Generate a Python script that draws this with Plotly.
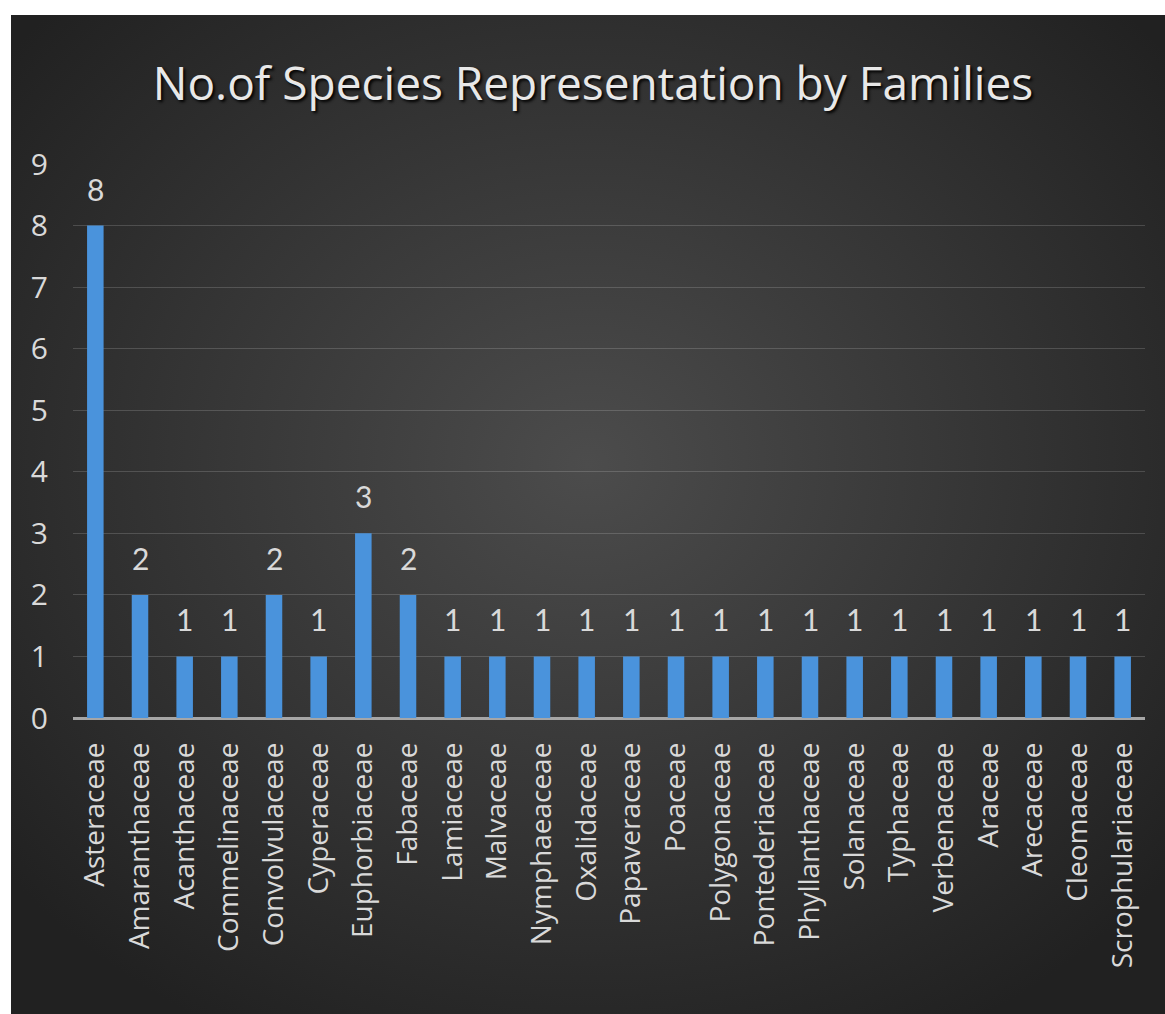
import plotly.graph_objects as go

families = ["Asteraceae", "Amaranthaceae", "Acanthaceae", "Commelinaceae", "Convolvulaceae",
            "Cyperaceae", "Euphorbiaceae", "Fabaceae", "Lamiaceae", "Malvaceae", "Nymphaeaceae",
            "Oxalidaceae", "Papaveraceae", "Poaceae", "Polygonaceae", "Pontederiaceae",
            "Phyllanthaceae", "Solanaceae", "Typhaceae", "Verbenaceae", "Araceae", "Arecaceae",
            "Cleomaceae", "Scrophulariaceae"]
species = [8, 2, 1, 1, 2, 1, 3, 2, 1, 1, 1, 1, 1, 1, 1, 1, 1, 1, 1, 1, 1, 1, 1, 1]
y_ticks = [0, 1, 2, 3, 4, 5, 6, 7, 8, 9]

FONT = "Lato, 'Open Sans', sans-serif"
FONT2 = "'Open Sans', Lato, sans-serif"
TXT = "#d9d9d9"

svg = ("data:image/svg+xml;utf8,"
       "<svg xmlns='http://www.w3.org/2000/svg' width='1154' height='999' preserveAspectRatio='none'>"
       "<defs><radialGradient id='g' cx='50%' cy='45%' r='65%'>"
       "<stop offset='0%' stop-color='%234c4c4c'/>"
       "<stop offset='100%' stop-color='%23212121'/>"
       "</radialGradient></defs>"
       "<rect width='1154' height='999' fill='url(%23g)'/></svg>")

fig = go.Figure()
fig.add_trace(go.Bar(
    x=families, y=species,
    marker=dict(color="#4a93dc", line=dict(width=0)),
    width=0.37,
))

for f, v in zip(families, species):
    fig.add_annotation(x=f, y=v, text=str(v), showarrow=False,
                       yanchor="middle", yshift=37,
                       font=dict(family=FONT, size=30, color=TXT))

W, H = 1165, 1014
L, R, T, B = 73, 20, 164, 296
pw = W - L - R
ph = H - T - B

fig.add_layout_image(dict(
    source=svg, xref="paper", yref="paper",
    x=(11 - L) / pw, y=(H - B - 15) / ph,
    sizex=(W - 11) / pw, sizey=(H - 15) / ph,
    sizing="stretch", xanchor="left", yanchor="top", layer="below",
))

fig.update_layout(
    width=W, height=H,
    margin=dict(l=L, r=R, t=T, b=B),
    paper_bgcolor="white",
    plot_bgcolor="rgba(0,0,0,0)",
    showlegend=False,
    title=dict(
        text="No.of Species Representation by Families",
        x=(593 - L) / pw, xref="paper", xanchor="center",
        y=(H - 84) / H, yanchor="middle",
        font=dict(family=FONT2, size=46, color="#e8e8e8", shadow="2px 2px 3px #000"),
    ),
    xaxis=dict(
        tickangle=-90,
        tickfont=dict(family=FONT2, size=28, color=TXT),
        showgrid=False,
        ticks="", ticklabelstandoff=18,
        showline=False,
    ),
    yaxis=dict(
        range=[0, 9],
        tickvals=y_ticks,
        tickfont=dict(family=FONT2, size=30, color=TXT),
        showgrid=True, gridcolor="rgba(255,255,255,0.16)", gridwidth=1,
        zeroline=True, zerolinecolor="#a6a6a6", zerolinewidth=3,
        ticks="", ticklabelstandoff=24,
    ),
)

fig.write_html("out.html")
